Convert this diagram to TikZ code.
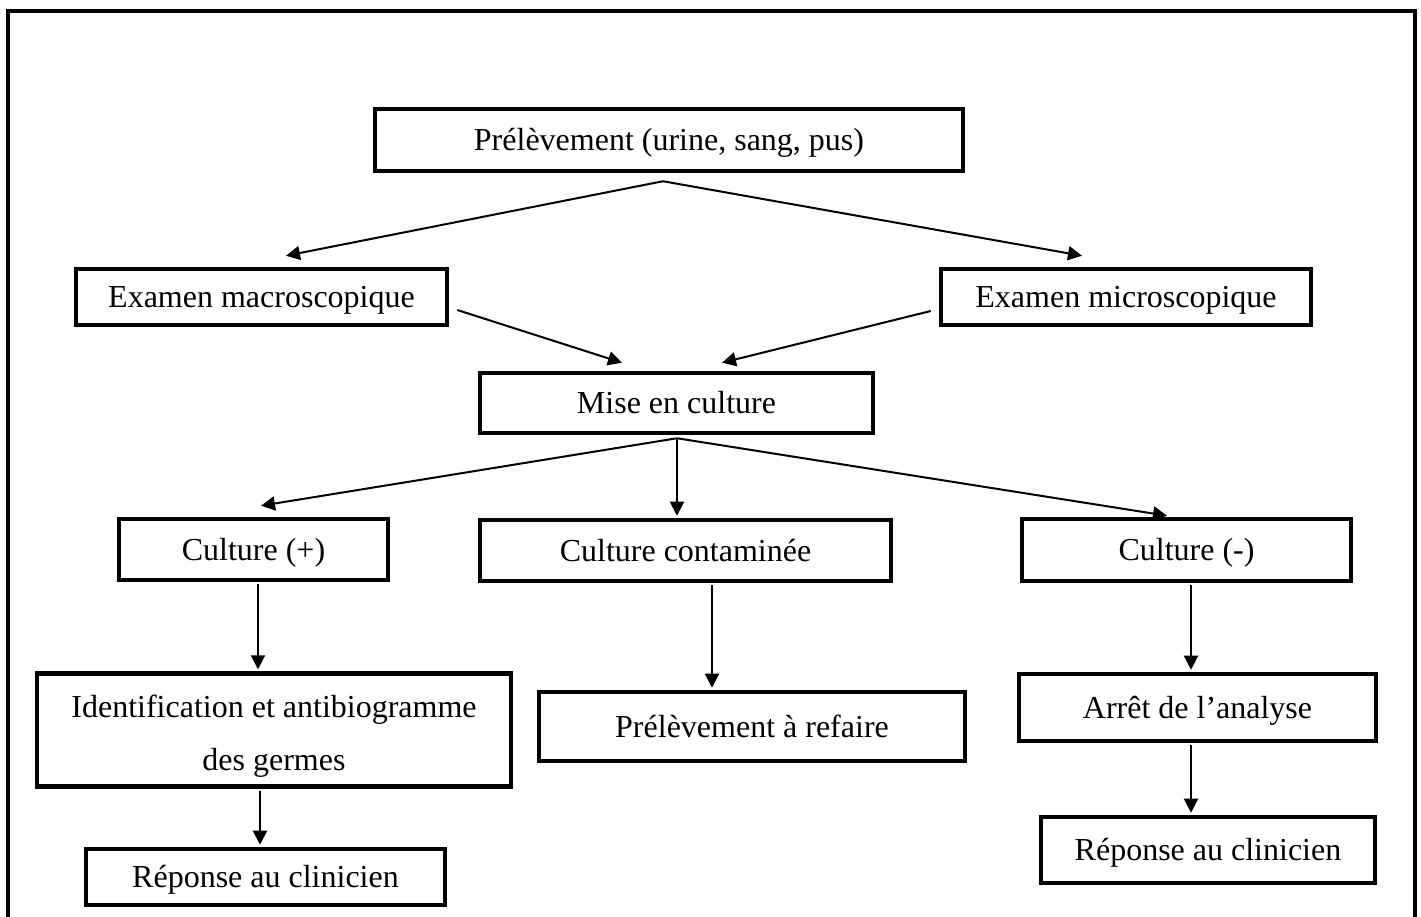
\documentclass[tikz,border=0pt]{standalone}
\usepackage{fontspec}
\setmainfont{Liberation Serif}
\usetikzlibrary{arrows.meta}
\tikzset{
  etape/.style={draw,line width=4.5pt,align=center,inner sep=0pt,
    font=\fontsize{32}{53}\selectfont,execute at begin node=\strut},
  fleche/.style={line width=2pt,-{Triangle[length=14pt,width=14pt]}}
}
\begin{document}
\begin{tikzpicture}[x=1pt,y=1pt]
  \useasboundingbox (0,0) rectangle (1421,917);
  % cadre
  \draw[line width=3.5pt] (8,0)--(8,906)--(1415,906)--(1415,0);
  % boites
  \node[etape,minimum width=588pt,minimum height=62pt] (prel) at (669,777) {Prélèvement (urine, sang, pus)};
  \node[etape,minimum width=371pt,minimum height=56pt] (macro) at (261.5,620) {Examen macroscopique};
  \node[etape,minimum width=370pt,minimum height=56pt] (micro) at (1126,620) {Examen microscopique};
  \node[etape,minimum width=393pt,minimum height=60pt] (mise) at (676.5,514) {Mise en culture};
  \node[etape,minimum width=269pt,minimum height=61pt] (cplus) at (253.5,367.5) {Culture (+)};
  \node[etape,minimum width=411pt,minimum height=61pt] (ccont) at (685.5,366.5) {Culture contaminée};
  \node[etape,minimum width=329pt,minimum height=62pt] (cmoins) at (1186.5,367) {Culture (-)};
  \node[etape,minimum width=474pt,minimum height=112pt] (ident) at (274,187) {\rule{0pt}{44pt}Identification et antibiogramme\\des germes};
  \node[etape,minimum width=426pt,minimum height=69pt] (refaire) at (752,190.5) {Prélèvement à refaire};
  \node[etape,minimum width=357pt,minimum height=67pt] (arret) at (1197.5,209.5) {Arrêt de l’analyse};
  \node[etape,minimum width=359pt,minimum height=56pt] (repg) at (265.5,40) {Réponse au clinicien};
  \node[etape,minimum width=334pt,minimum height=66pt] (repd) at (1208,67) {Réponse au clinicien};
  % fleches
  \draw[fleche]([shift={(-6,-8)}]prel.south)--([shift={(24.5,11)}]macro.north);
  \draw[fleche]([shift={(-6,-8)}]prel.south)--([shift={(-44,11)}]micro.north);
  \draw[fleche]([shift={(8,-13)}]macro.east)--([shift={(-54.5,8)}]mise.north);
  \draw[fleche]([shift={(-8,-14)}]micro.west)--([shift={(45.5,8)}]mise.north);
  \draw[fleche]([shift={(0.5,-3)}]mise.south)--([shift={(7.5,11)}]cplus.north);
  \draw[fleche]([shift={(0.5,-3)}]mise.south)--([shift={(-8.5,2)}]ccont.north);
  \draw[fleche]([shift={(0.5,-3)}]mise.south)--([shift={(-19.5,1)}]cmoins.north);
  \draw[fleche]([xshift=4.5pt,yshift=-2pt]cplus.south)--([xshift=-16pt,yshift=2pt]ident.north);
  \draw[fleche]([xshift=-14pt,yshift=-2pt]ident.south)--([xshift=-5.5pt,yshift=2pt]repg.north);
  \draw[fleche]([xshift=26.5pt,yshift=-2pt]ccont.south)--([xshift=-40pt,yshift=2pt]refaire.north);
  \draw[fleche]([xshift=4.5pt,yshift=-2pt]cmoins.south)--([xshift=-6.5pt,yshift=2pt]arret.north);
  \draw[fleche]([xshift=-6.5pt,yshift=-2pt]arret.south)--([xshift=-17pt,yshift=2pt]repd.north);
\end{tikzpicture}
\end{document}
